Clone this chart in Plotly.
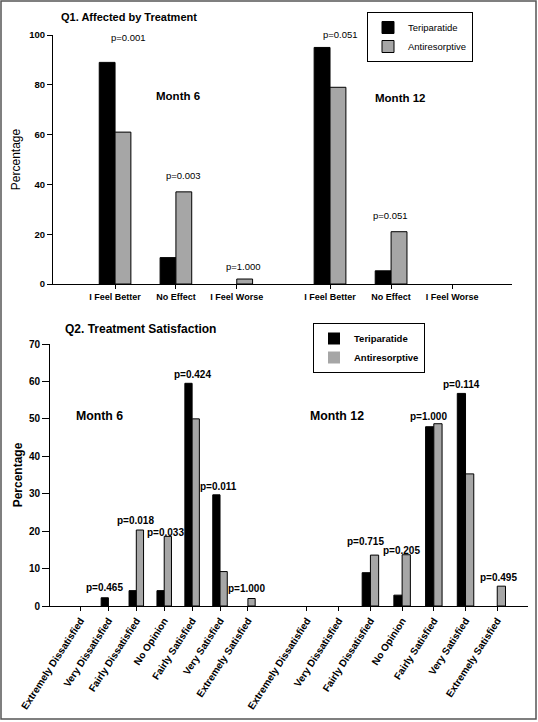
import plotly.graph_objects as go

# ---------------- data ----------------
q1_categories = ["I Feel Better", "No Effect", "I Feel Worse"]
q1_m6_teriparatide = [89.0, 10.6, 0.0]
q1_m6_antiresorptive = [61.0, 37.0, 2.0]
q1_m12_teriparatide = [95.0, 5.3, 0.0]
q1_m12_antiresorptive = [79.0, 21.0, 0.0]
q1_m6_p = ["p=0.001", "p=0.003", "p=1.000"]
q1_m12_p = ["p=0.051", "p=0.051", ""]

q2_categories = ["Extremely Dissatisfied", "Very Dissatisfied", "Fairly Dissatisfied",
                 "No Opinion", "Fairly Satisfied", "Very Satisfied", "Extremely Satisfied"]
q2_m6_teriparatide = [0.0, 2.2, 4.1, 4.1, 59.5, 29.7, 0.0]
q2_m6_antiresorptive = [0.0, 0.0, 20.3, 18.6, 50.0, 9.2, 2.0]
q2_m12_teriparatide = [0.0, 0.0, 8.9, 2.9, 47.9, 56.8, 0.0]
q2_m12_antiresorptive = [0.0, 0.0, 13.6, 13.7, 48.7, 35.3, 5.3]
q2_m6_p = ["", "p=0.465", "p=0.018", "p=0.033", "p=0.424", "p=0.011", "p=1.000"]
q2_m12_p = ["", "", "p=0.715", "p=0.205", "p=1.000", "p=0.114", "p=0.495"]

series_names = ["Teriparatide", "Antiresorptive"]
q1_yticks = [0, 20, 40, 60, 80, 100]
q2_yticks = [0, 10, 20, 30, 40, 50, 60, 70]

# ---------------- style ----------------
W, H = 538, 722
FONT = "Liberation Sans, Arial, sans-serif"
BLACK = "#000000"
GRAY = "#a6a6a6"
colors = [BLACK, GRAY]

# label nudges in pixels (dx, lift above bar top) per p-value label, per panel
q1_m6_nudge = [(13, 25), (8, 16), (7, 13)]
q1_m12_nudge = [(10, 13), (-1, 16), (0, 0)]
q2_m6_nudge = [(0, 0), (-4, 10), (-1, 10), (1, 4), (0, 9), (-2, 8), (-1, 10)]
q2_m12_nudge = [(0, 0), (0, 0), (-5, 14), (-1, 4), (-5, 7), (-4, 9), (1, 9)]


def px_x(p):
    return p / W


def px_y(p):
    return 1 - p / H


fig = go.Figure()

panels = [
    ("x", "y", q1_categories, q1_m6_teriparatide, q1_m6_antiresorptive, q1_m6_p, q1_m6_nudge, "legend", True),
    ("x2", "y2", q1_categories, q1_m12_teriparatide, q1_m12_antiresorptive, q1_m12_p, q1_m12_nudge, "legend", False),
    ("x3", "y3", q2_categories, q2_m6_teriparatide, q2_m6_antiresorptive, q2_m6_p, q2_m6_nudge, "legend2", True),
    ("x4", "y4", q2_categories, q2_m12_teriparatide, q2_m12_antiresorptive, q2_m12_p, q2_m12_nudge, "legend2", False),
]

annotations = []
for xa, ya, cats, t_vals, a_vals, pvals, nudges, leg, show in panels:
    for name, vals, col in zip(series_names, [t_vals, a_vals], colors):
        fig.add_trace(go.Bar(
            x=cats, y=vals, name=name, xaxis=xa, yaxis=ya,
            marker=dict(color=col,
                        line=dict(color=BLACK, width=[1 if v > 0 else 0 for v in vals])),
            legend=leg, showlegend=show, legendgroup=leg + name,
        ))
    top = ya in ("y", "y2")
    for c, tv, av, p, (dx, dy) in zip(cats, t_vals, a_vals, pvals, nudges):
        if not p:
            continue
        annotations.append(dict(
            x=c, y=max(tv, av), xref=xa, yref=ya, text=p, showarrow=False,
            xanchor="center", yanchor="middle", yshift=dy, xshift=dx,
            font=dict(family=FONT, size=9.5 if top else 10, color=BLACK,
                      weight="normal" if top else "bold"),
        ))

axis_common = dict(showline=True, linecolor=BLACK, linewidth=1, ticks="outside",
                   tickcolor=BLACK, showgrid=False, zeroline=False)

q1_ydom = [px_y(284), px_y(35)]
q2_ydom = [px_y(606), px_y(344)]

fig.update_layout(
    width=W, height=H,
    margin=dict(l=0, r=0, t=0, b=0),
    paper_bgcolor="white", plot_bgcolor="white",
    font=dict(family=FONT, color=BLACK),
    barmode="group", bargap=0.48, bargroupgap=0,
    xaxis=dict(domain=[px_x(53), px_x(283)], anchor="y", type="category",
               range=[-1.02, 2.76], ticklen=4, automargin=False,
               tickfont=dict(family=FONT, size=9, weight="bold"), **axis_common),
    xaxis2=dict(domain=[px_x(283), px_x(512)], anchor="y2", type="category",
                range=[-0.77, 2.98], ticklen=4, automargin=False,
                tickfont=dict(family=FONT, size=9, weight="bold"), **axis_common),
    xaxis3=dict(domain=[px_x(50), px_x(277.5)], anchor="y3", type="category",
                range=[-1.093, 7.06], ticklen=4, tickangle=-57, automargin=False,
                tickfont=dict(family=FONT, size=10, weight="bold"), **axis_common),
    xaxis4=dict(domain=[px_x(277.5), px_x(528)], anchor="y4", type="category",
                range=[-0.93, 6.97], ticklen=4, tickangle=-57, automargin=False,
                tickfont=dict(family=FONT, size=10, weight="bold"), **axis_common),
    yaxis=dict(domain=q1_ydom, anchor="x", range=[0, 100], tickvals=q1_yticks,
               ticklen=5, automargin=False,
               tickfont=dict(family=FONT, size=9.5, weight="bold"),
               title=dict(text="Percentage", standoff=6,
                          font=dict(family=FONT, size=12)),
               **axis_common),
    yaxis2=dict(domain=q1_ydom, anchor="x2", range=[0, 100], visible=False),
    yaxis3=dict(domain=q2_ydom, anchor="x3", range=[0, 70], tickvals=q2_yticks,
                ticklen=7, automargin=False,
                tickfont=dict(family=FONT, size=10, weight="bold"),
                title=dict(text="Percentage", standoff=3,
                           font=dict(family=FONT, size=12, weight="bold")),
                **axis_common),
    yaxis4=dict(domain=q2_ydom, anchor="x4", range=[0, 70], visible=False),
    legend=dict(x=px_x(367), y=px_y(12), xanchor="left", yanchor="top",
                bordercolor=BLACK, borderwidth=1, bgcolor="white",
                font=dict(family=FONT, size=9.5), tracegroupgap=0,
                itemwidth=30, traceorder="normal"),
    legend2=dict(x=px_x(313), y=px_y(323), xanchor="left", yanchor="top",
                 bordercolor=BLACK, borderwidth=1, bgcolor="white",
                 font=dict(family=FONT, size=9.5, weight="bold"), tracegroupgap=0,
                 itemwidth=30, traceorder="normal"),
)

# titles and month labels
annotations += [
    dict(text="Q1. Affected by Treatment", x=px_x(59), y=px_y(17), xref="paper", yref="paper",
         xanchor="left", yanchor="middle", showarrow=False,
         font=dict(family=FONT, size=11, weight="bold")),
    dict(text="Q2. Treatment Satisfaction", x=px_x(63), y=px_y(329), xref="paper", yref="paper",
         xanchor="left", yanchor="middle", showarrow=False,
         font=dict(family=FONT, size=12, weight="bold")),
    dict(text="Month 6", x=px_x(178), y=px_y(96), xref="paper", yref="paper",
         xanchor="center", yanchor="middle", showarrow=False,
         font=dict(family=FONT, size=11.5, weight="bold")),
    dict(text="Month 12", x=px_x(400), y=px_y(98), xref="paper", yref="paper",
         xanchor="center", yanchor="middle", showarrow=False,
         font=dict(family=FONT, size=11.5, weight="bold")),
    dict(text="Month 6", x=px_x(99), y=px_y(416), xref="paper", yref="paper",
         xanchor="center", yanchor="middle", showarrow=False,
         font=dict(family=FONT, size=12.3, weight="bold")),
    dict(text="Month 12", x=px_x(337), y=px_y(416), xref="paper", yref="paper",
         xanchor="center", yanchor="middle", showarrow=False,
         font=dict(family=FONT, size=12.3, weight="bold")),
]
fig.update_layout(annotations=annotations)

# figure frame
fig.add_shape(type="rect", xref="paper", yref="paper",
              x0=px_x(1), x1=px_x(536), y0=px_y(719), y1=px_y(1),
              line=dict(color="#555555", width=1.5), fillcolor="rgba(0,0,0,0)")

fig.write_html("out.html",
               config={"displayModeBar": False, "staticPlot": True},
               post_script="document.body.style.margin='0px';document.body.style.overflow='hidden';")
